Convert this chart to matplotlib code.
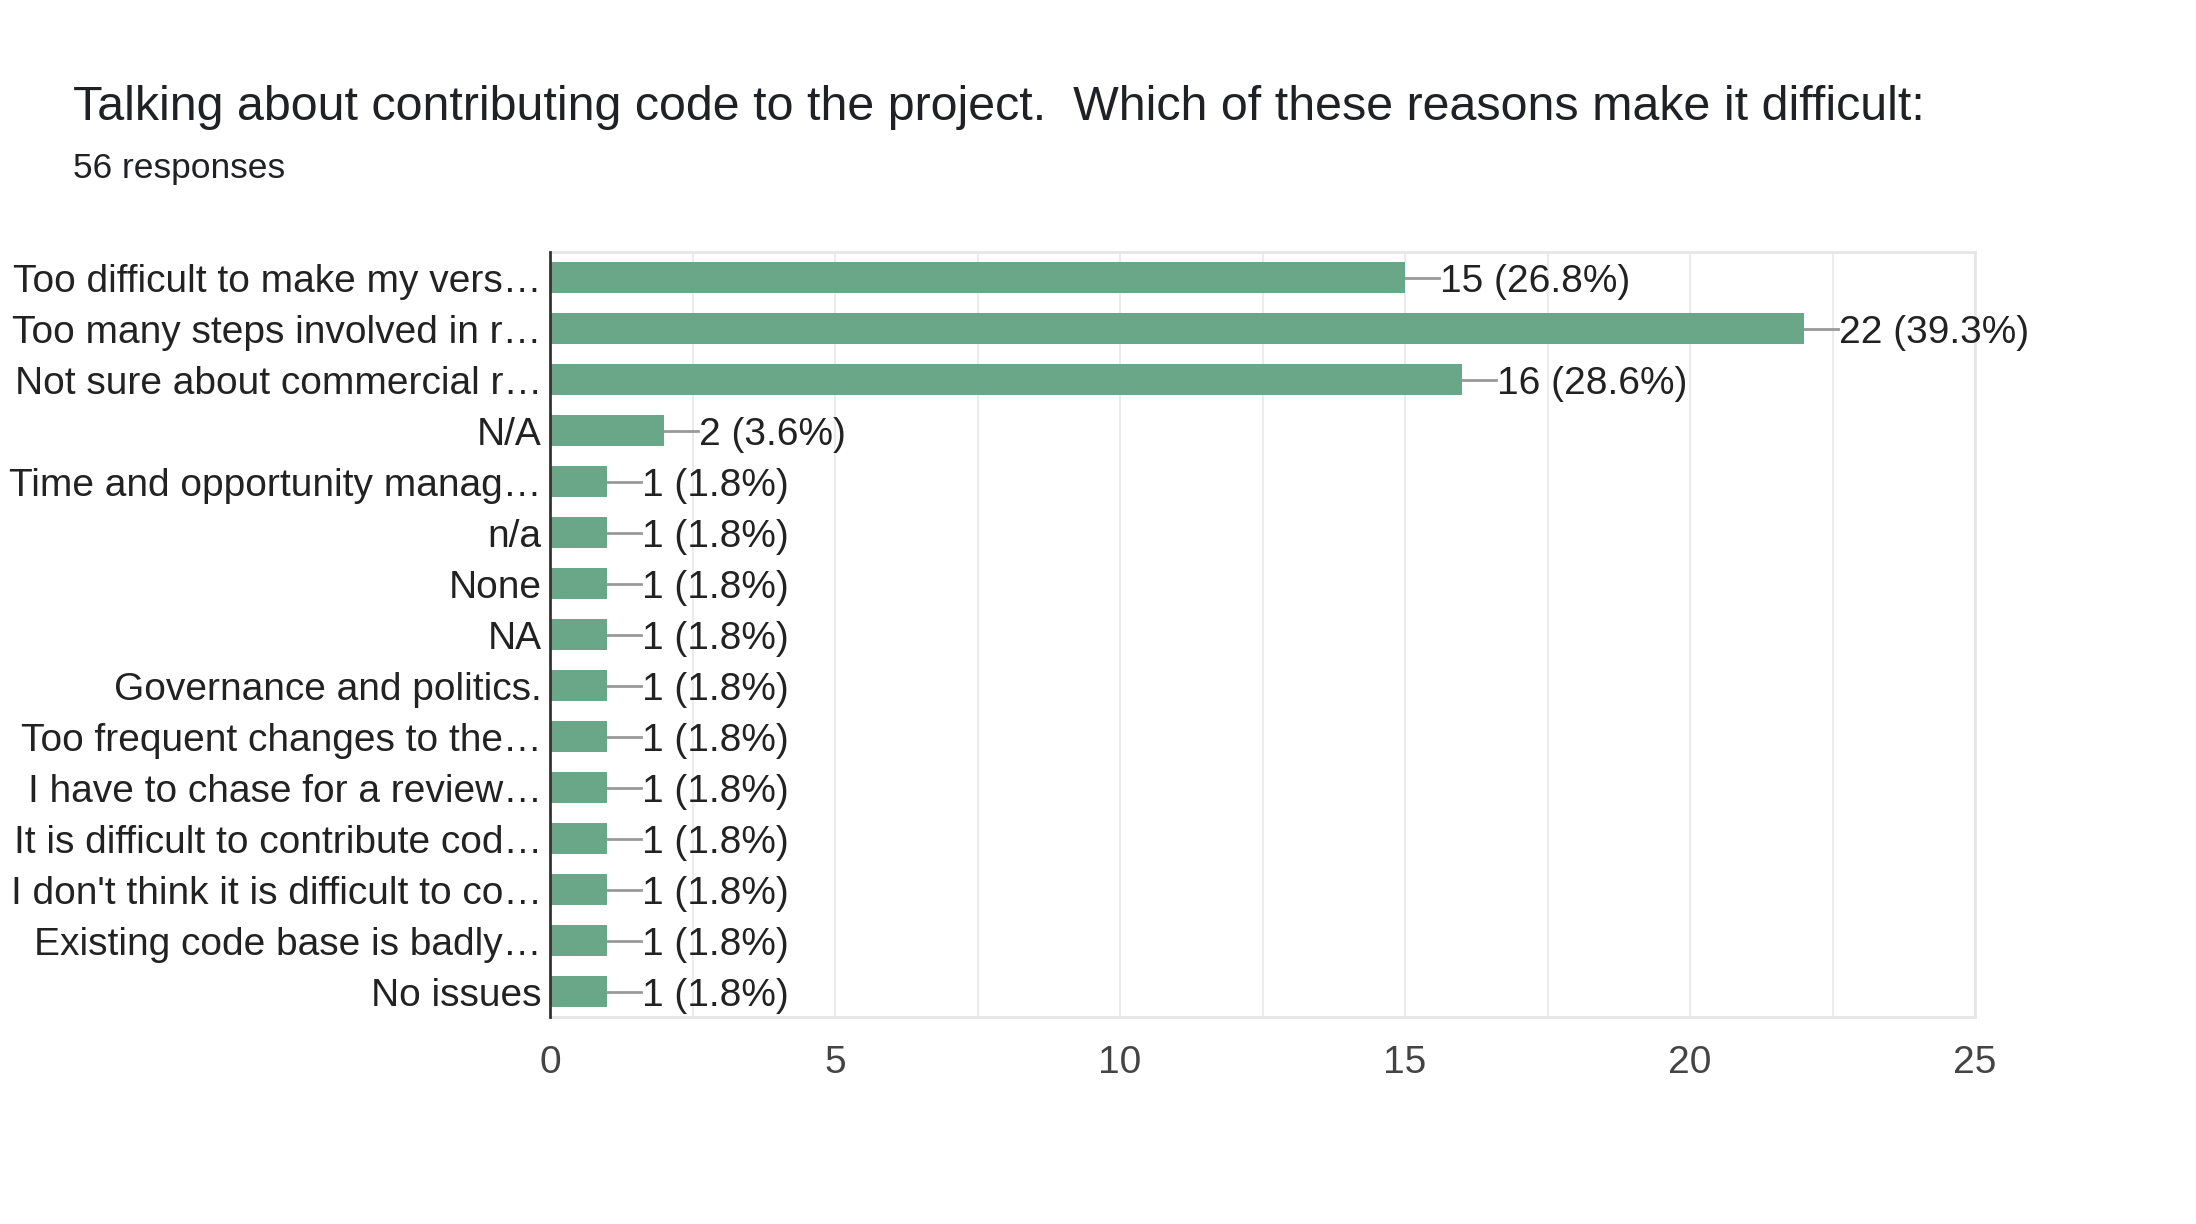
import matplotlib
matplotlib.use("Agg")
import matplotlib.pyplot as plt

# survey answers, top to bottom as shown
labels = [
    "Too difficult to make my vers\u2026",
    "Too many steps involved in r\u2026",
    "Not sure about commercial r\u2026",
    "N/A",
    "Time and opportunity manag\u2026",
    "n/a",
    "None",
    "NA",
    "Governance and politics.",
    "Too frequent changes to the\u2026",
    "I have to chase for a review\u2026",
    "It is difficult to contribute cod\u2026",
    "I don't think it is difficult to co\u2026",
    "Existing code base is badly\u2026",
    "No issues",
]
counts = [15, 22, 16, 2, 1, 1, 1, 1, 1, 1, 1, 1, 1, 1, 1]
percents = ["26.8%", "39.3%", "28.6%", "3.6%", "1.8%", "1.8%", "1.8%", "1.8%",
            "1.8%", "1.8%", "1.8%", "1.8%", "1.8%", "1.8%", "1.8%"]
xticks = [0, 5, 10, 15, 20, 25]

plt.rcParams["font.family"] = ["Liberation Sans", "DejaVu Sans"]

fig = plt.figure(figsize=(21.96, 12.24), dpi=100)
ax = fig.add_axes([0.2505, 0.1691, 0.6489, 0.625])

ypos = list(range(len(labels)))
ax.barh(ypos, counts, height=0.62, color="#6aa688", zorder=3)

for y, c, p in zip(ypos, counts, percents):
    ax.plot([c, c + 0.6], [y, y], color="#999999", lw=2, zorder=2)
    ax.text(c + 0.62, y, f"{c} ({p})", va="center_baseline", ha="left",
            fontsize=28, color="#222222")

ax.set_xlim(0, 25)
ax.set_ylim(len(labels) - 0.5, -0.5)
ax.set_yticks(ypos)
ax.set_yticklabels(labels, fontsize=28, color="#222222", va="center_baseline")
ax.set_xticks(xticks)
ax.set_xticklabels([str(t) for t in xticks], fontsize=28, color="#444444")
ax.set_xticks([2.5, 7.5, 12.5, 17.5, 22.5], minor=True)
ax.tick_params(axis="both", which="both", length=0)
ax.tick_params(axis="x", pad=20)
ax.tick_params(axis="y", pad=6)

ax.grid(axis="x", which="both", color="#ebebeb", lw=1.5, zorder=0)
for s in ["top", "right", "bottom"]:
    ax.spines[s].set_color("#e6e6e6")
    ax.spines[s].set_linewidth(2)
ax.spines["left"].set_color("#333333")
ax.spines["left"].set_linewidth(2)
ax.spines["left"].set_zorder(4)

fig.text(0.0333, 0.912, "Talking about contributing code to the project.  Which of these reasons make it difficult:",
         fontsize=34.8, color="#202124", va="center")
fig.text(0.0333, 0.862, "56 responses", fontsize=25.5, color="#202124", va="center")

fig.savefig("out.png", dpi=100, facecolor="white")
